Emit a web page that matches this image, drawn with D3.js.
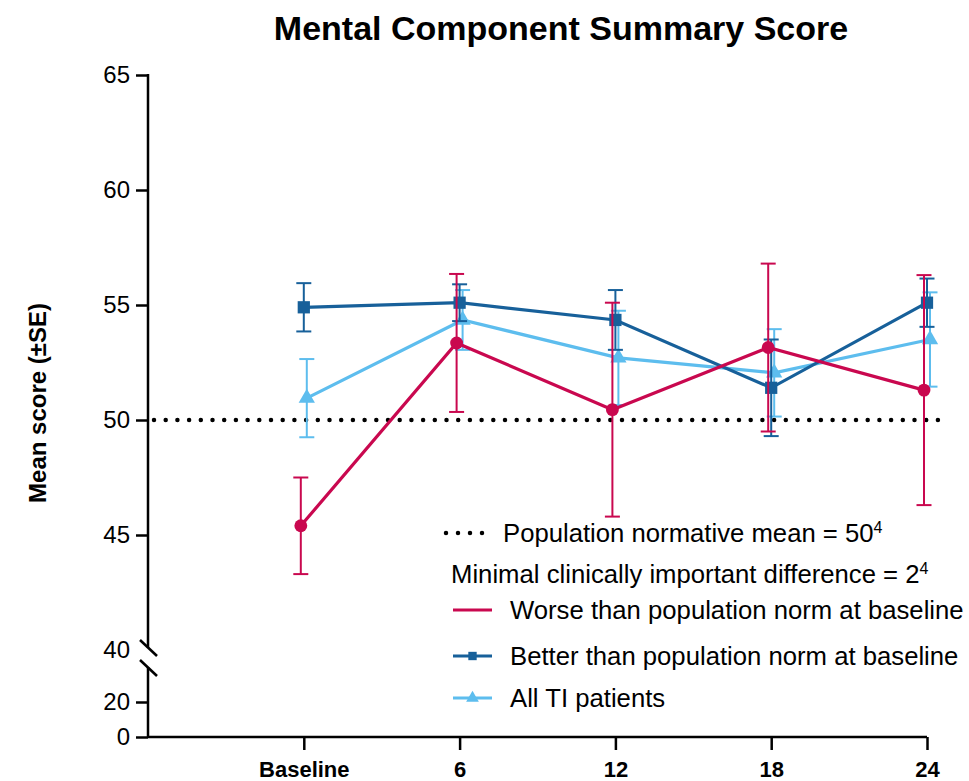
<!DOCTYPE html>
<html>
<head>
<meta charset="utf-8">
<script src="https://cdn.jsdelivr.net/npm/d3@7"></script>
<style>
  html, body { margin: 0; padding: 0; background: #fff; }
  svg { display: block; font-family: "Liberation Sans", Arial, sans-serif; }
</style>
</head>
<body>
<svg id="chart" width="969" height="781"></svg>
<script>
// Visit months and their axis labels
const months = [0, 6, 12, 18, 24];
const monthLabels = ["Baseline", "6", "12", "18", "24"];

// Mean MCS score and standard error per visit
const worseMean  = [45.4, 53.35, 50.45, 53.15, 51.3];
const worseSE    = [2.1, 3.0, 4.65, 3.65, 5.0];
const betterMean = [54.9, 55.1, 54.35, 51.4, 55.1];
const betterSE   = [1.05, 0.8, 1.3, 2.1, 1.05];
const allMean    = [50.95, 54.35, 52.7, 52.05, 53.5];
const allSE      = [1.7, 1.3, 2.05, 1.9, 2.05];

// Axis ticks (upper and lower segments of the broken axis)
const upperTicks = [40, 45, 50, 55, 60, 65];
const lowerTicks = [0, 20];
const normMean = 50;

const svg = d3.select("#chart");

const x = d3.scaleLinear().domain([-6, 24]).range([148, 927]);
const yU = d3.scaleLinear().domain([40, 65]).range([650, 75]);
const yL = d3.scaleLinear().domain([0, 40]).range([737, 667]);

const axisX = 148;

// Title
svg.append("text")
  .attr("x", 561).attr("y", 40)
  .attr("text-anchor", "middle")
  .style("font-weight", "bold").style("font-size", "34px")
  .text("Mental Component Summary Score");

// Y axis label
svg.append("text")
  .attr("transform", "translate(46,403) rotate(-90)")
  .attr("text-anchor", "middle")
  .style("font-weight", "bold").style("font-size", "24px")
  .text("Mean score (±SE)");

// Upper y axis segment
const gU = svg.append("g").attr("transform", `translate(${axisX},0)`)
  .call(d3.axisLeft(yU).tickValues(upperTicks).tickSize(12).tickPadding(6));
gU.select(".domain").remove();
gU.selectAll(".tick line").attr("stroke", "#000").attr("stroke-width", 2.5)
  .filter(d => d === 40).remove();
gU.selectAll(".tick text").style("font-size", "24px").attr("fill", "#000")
  .style("font-family", "'Liberation Sans', Arial, sans-serif");
gU.append("line").attr("x1", 0).attr("x2", 0)
  .attr("y1", yU(65) - 1).attr("y2", yU(40) - 2)
  .attr("stroke", "#000").attr("stroke-width", 2.5);

// Lower y axis segment
const gL = svg.append("g").attr("transform", `translate(${axisX},0)`)
  .call(d3.axisLeft(yL).tickValues(lowerTicks).tickSize(12).tickPadding(6));
gL.select(".domain").remove();
gL.selectAll(".tick line").attr("stroke", "#000").attr("stroke-width", 2.5);
gL.selectAll(".tick text").style("font-size", "24px").attr("fill", "#000")
  .style("font-family", "'Liberation Sans', Arial, sans-serif");
gL.append("line").attr("x1", 0).attr("x2", 0)
  .attr("y1", yL(40)).attr("y2", yL(0) + 1)
  .attr("stroke", "#000").attr("stroke-width", 2.5);

// Axis break marks
[yU(40) - 2, yL(40) + 1].forEach(cy => {
  svg.append("line")
    .attr("x1", axisX - 8).attr("y1", cy - 8)
    .attr("x2", axisX + 9).attr("y2", cy + 8)
    .attr("stroke", "#000").attr("stroke-width", 2.5);
});

// X axis
const gX = svg.append("g").attr("transform", `translate(0,${yL(0)})`)
  .call(d3.axisBottom(x).tickValues(months)
    .tickFormat((d, i) => monthLabels[i]).tickSize(13).tickPadding(11));
gX.select(".domain").attr("d", `M${x(-6)},0H${x(24)}`)
  .attr("stroke", "#000").attr("stroke-width", 2.5);
gX.selectAll(".tick line").attr("stroke", "#000").attr("stroke-width", 2.5);
gX.selectAll(".tick text").style("font-size", "22px").style("font-weight", "bold")
  .attr("fill", "#000").style("font-family", "'Liberation Sans', Arial, sans-serif");

// Population normative mean reference line
svg.append("line")
  .attr("x1", x(-6) + 6).attr("x2", x(24) + 13)
  .attr("y1", yU(normMean)).attr("y2", yU(normMean))
  .attr("stroke", "#000").attr("stroke-width", 4.5)
  .attr("stroke-linecap", "round").attr("stroke-dasharray", "0 11.7");

// Series
const series = [
  { name: "All TI patients", mean: allMean, se: allSE, color: "#5dbdee", shape: d3.symbolTriangle, size: 115, dx: 3 },
  { name: "Better than population norm at baseline", mean: betterMean, se: betterSE, color: "#17609a", shape: d3.symbolSquare, size: 150, dx: 0 },
  { name: "Worse than population norm at baseline", mean: worseMean, se: worseSE, color: "#c9084f", shape: d3.symbolCircle, size: 130, dx: -3 }
];

const line = d3.line().x(d => x(d.m)).y(d => yU(d.v));

series.forEach(s => {
  const pts = months.map((m, i) => ({ m, v: s.mean[i], se: s.se[i] }));
  const g = svg.append("g").attr("transform", `translate(${s.dx},0)`);
  // error bars
  pts.forEach(p => {
    const cx = x(p.m);
    const top = yU(p.v + p.se), bot = yU(p.v - p.se);
    g.append("line").attr("x1", cx).attr("x2", cx).attr("y1", top).attr("y2", bot)
      .attr("stroke", s.color).attr("stroke-width", 2);
    [top, bot].forEach(yy => g.append("line")
      .attr("x1", cx - 7.5).attr("x2", cx + 7.5).attr("y1", yy).attr("y2", yy)
      .attr("stroke", s.color).attr("stroke-width", 2));
  });
  g.append("path").datum(pts).attr("d", line)
    .attr("fill", "none").attr("stroke", s.color).attr("stroke-width", 3.2);
  g.selectAll("path.pt").data(pts).enter().append("path").attr("class", "pt")
    .attr("transform", d => `translate(${x(d.m)},${yU(d.v)})`)
    .attr("d", d3.symbol().type(s.shape).size(s.size))
    .attr("fill", s.color);
});

// Legend
const lg = svg.append("g");
const fs = "25.7px";
lg.append("line").attr("x1", 446).attr("x2", 483).attr("y1", 533).attr("y2", 533)
  .attr("stroke", "#000").attr("stroke-width", 4.5)
  .attr("stroke-linecap", "round").attr("stroke-dasharray", "0 12");
const t1 = lg.append("text").attr("x", 503).attr("y", 542).style("font-size", fs);
t1.append("tspan").text("Population normative mean = 50");
t1.append("tspan").attr("dy", -9).style("font-size", "16px").text("4");
const t2 = lg.append("text").attr("x", 451).attr("y", 583).style("font-size", fs);
t2.append("tspan").text("Minimal clinically important difference = 2");
t2.append("tspan").attr("dy", -9).style("font-size", "16px").text("4");

const legendRows = [
  { s: series[2], y: 610 },
  { s: series[1], y: 656 },
  { s: series[0], y: 698 }
];
legendRows.forEach(r => {
  lg.append("line").attr("x1", 453).attr("x2", 492).attr("y1", r.y).attr("y2", r.y)
    .attr("stroke", r.s.color).attr("stroke-width", 3.2);
  if (r.s.shape !== d3.symbolCircle) {
    lg.append("path").attr("transform", `translate(472.5,${r.y})`)
      .attr("d", d3.symbol().type(r.s.shape).size(70)).attr("fill", r.s.color);
  }
  lg.append("text").attr("x", 510).attr("y", r.y + 9).style("font-size", fs)
    .text(r.s.name);
});
</script>
</body>
</html>
